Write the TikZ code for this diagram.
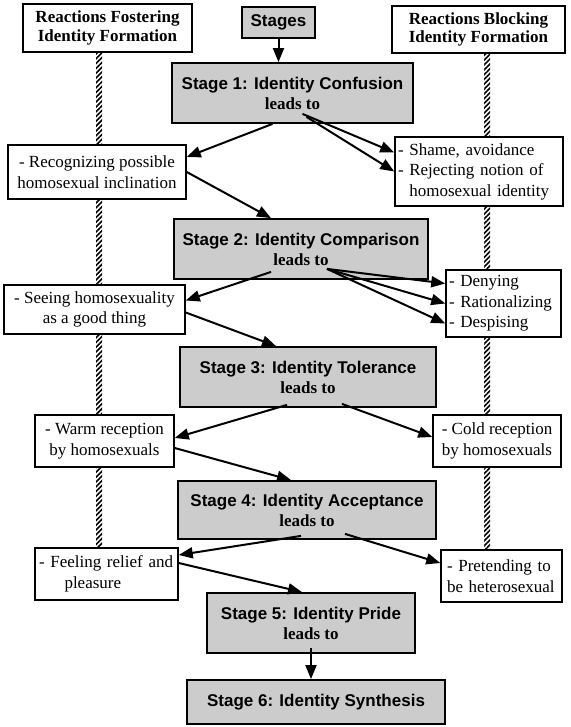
\documentclass[tikz,border=0pt]{standalone}
\usepackage{fontspec}
\setmainfont{Liberation Serif}
\newfontfamily\stagesans{Liberation Sans}
\usetikzlibrary{arrows.meta,patterns.meta}

\begin{document}
\begin{tikzpicture}[x=1pt,y=-1pt,
    stagebox/.style={shape=rectangle,draw,line width=1.8pt,fill=cass_bgbox,inner sep=0pt,align=center,
                     font=\stagesans\bfseries\fontsize{17}{20}\selectfont},
    reactbox/.style={shape=rectangle,draw,line width=1.5pt,fill=white,inner sep=0pt,align=center,
                     font=\fontsize{17}{20.5}\selectfont},
    headbox/.style={reactbox,font=\bfseries\fontsize{17}{18.5}\selectfont},
    flow/.style={line width=2pt,-{Triangle[length=14pt,width=11pt]}},
    hatchbar/.style={pattern={Lines[angle=45,distance=3.4pt,line width=1.6pt]}}]
    \definecolor{cass_bgbox}{RGB}{204,204,204}
    \useasboundingbox (0,0) rectangle (570,727);

    % column headers
    \node[headbox,minimum width=169pt,minimum height=48pt] (fos0) at (107.5,28) {Reactions Fostering\\Identity Formation};
    \node[stagebox,minimum width=73pt,minimum height=31pt] (st0) at (278.5,22.5) {Stages};
    \node[headbox,minimum width=173pt,minimum height=47pt] (blk0) at (478.5,29.5) {Reactions Blocking\\Identity Formation};

    % stages
    \node[stagebox,minimum width=241pt,minimum height=60pt] (st1) at (292.5,93) {Stage 1: Identity Confusion\\{\rmfamily leads to}};
    \node[stagebox,minimum width=254pt,minimum height=60pt] (st2) at (301,249) {Stage 2: Identity Comparison\\{\rmfamily leads to}};
    \node[stagebox,minimum width=256pt,minimum height=60pt] (st3) at (308,377) {Stage 3: Identity Tolerance\\{\rmfamily leads to}};
    \node[stagebox,minimum width=258pt,minimum height=58pt] (st4) at (307,510) {Stage 4: Identity Acceptance\\{\rmfamily leads to}};
    \node[stagebox,minimum width=208pt,minimum height=60pt] (st5) at (311,623) {Stage 5: Identity Pride\\{\rmfamily leads to}};
    \node[stagebox,minimum width=258pt,minimum height=44pt] (st6) at (316,702) {Stage 6: Identity Synthesis};

    % fostering reactions
    \node[reactbox,minimum width=178pt,minimum height=54pt] (f1) at (97,172) {- Recognizing possible\\homosexual inclination};
    \node[reactbox,minimum width=181pt,minimum height=49pt] (f2) at (94.5,309.5) {- Seeing homosexuality\\as a good thing};
    \node[reactbox,minimum width=139pt,minimum height=52pt] (f3) at (104.5,441) {- Warm reception\\by homosexuals};
    \node[reactbox,align=left,inner xsep=4pt,text width=135pt,minimum height=52pt] (f4) at (106.5,574) {- Feeling relief and\\\hspace*{1.5em}pleasure};

    % blocking reactions
    \node[reactbox,align=left,inner xsep=3pt,text width=162pt,minimum height=69pt] (b1) at (479,171.5) {- Shame, avoidance\\- Rejecting notion of\\\hphantom{- }homosexual identity};
    \node[reactbox,align=left,inner xsep=3pt,text width=109pt,minimum height=67pt] (b2) at (503.5,303.5) {- Denying\\- Rationalizing\\- Despising};
    \node[reactbox,minimum width=128pt,minimum height=52pt] (b3) at (497,441) {- Cold reception\\by homosexuals};
    \node[reactbox,align=left,inner xsep=6pt,text width=109pt,minimum height=52pt] (b4) at (501.5,576) {- Pretending to\\be heterosexual};

    % hatched bars
    \coordinate (lbarL) at (96,0);
    \coordinate (lbarR) at (102,0);
    \coordinate (rbarL) at (484,0);
    \coordinate (rbarR) at (490,0);
    \foreach \a/\b in {fos0/f1,f1/f2,f2/f3,f3/f4}
        \path[hatchbar] (\a.south -| lbarL) rectangle (\b.north -| lbarR);
    \foreach \a/\b in {blk0/b1,b1/b2,b2/b3,b3/b4}
        \path[hatchbar] (\a.south -| rbarL) rectangle (\b.north -| rbarR);

    % arrows
    \draw[flow] (st0.south) -- (st0.south |- st1.north);
    \draw[flow] ([xshift=-20pt]st1.south) -- ([yshift=15pt]f1.east);
    \draw[flow] ([xshift=10pt,yshift=10pt]st1.south) -- ([yshift=19pt]b1.west);
    \draw[flow] ([xshift=14pt,yshift=7pt]st1.south) -- (b1.west);
    \draw[flow] (f1.east) -- ([xshift=-30pt]st2.north);
    \draw[flow] ([xshift=-30pt,yshift=8pt]st2.south) -- ([yshift=9pt]f2.east);
    \foreach \dy in {20,0,-20}
        \draw[flow] ([xshift=26pt,yshift=11pt]st2.south) -- ([yshift=\dy pt]b2.west);
    \draw[flow] ([yshift=-3pt]f2.east) -- ([xshift=-32pt]st3.north);
    \draw[flow] ([xshift=-21pt,yshift=3pt]st3.south) -- ([yshift=3pt]f3.east);
    \draw[flow] ([xshift=34pt,yshift=4pt]st3.south) -- ([yshift=4pt]b3.west);
    \draw[flow] ([yshift=-7pt]f3.east) -- ([xshift=-16pt]st4.north);
    \draw[flow] ([xshift=-6pt,yshift=4pt]st4.south) -- ([yshift=19pt]f4.east);
    \draw[flow] ([xshift=38pt,yshift=6pt]st4.south) -- ([yshift=13pt]b4.west);
    \draw[flow] ([yshift=11pt]f4.east) -- ([xshift=-9pt]st5.north);
    \draw[flow] ([yshift=6pt]st5.south) -- (st5.south |- st6.north);
\end{tikzpicture}
\end{document}
